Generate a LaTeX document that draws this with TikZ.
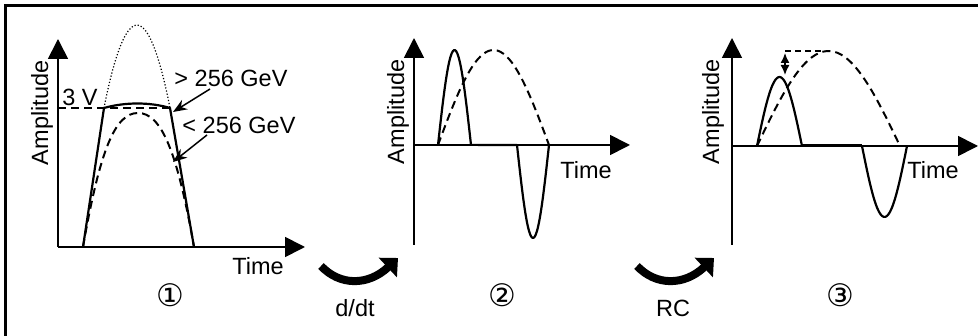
\documentclass[tikz,border=0pt]{standalone}
\usepackage{fontspec}
\setmainfont{Liberation Sans}
\newfontfamily\circfont{DejaVu Sans}
\usetikzlibrary{arrows.meta}
\tikzset{
  axisline/.style={
    line width=1.7pt,
    -{Triangle[length=20pt,width=20pt]}
  },
  pulse/.style={
    line width=2.2pt,
    line join=round
  },
  pulsedash/.style={
    line width=2pt,
    dash pattern=on 8pt off 5pt
  },
  peakdot/.style={
    line width=1.2pt,
    dash pattern=on 1.2pt off 2pt
  },
  callout/.style={
    line width=1.5pt,
    -{Stealth[length=14pt,width=11pt]}
  },
  opbend/.style={
    line width=8pt,
    -{Triangle[length=14pt,width=26pt]}
  },
  axlabel/.style={
    inner sep=0pt,
    font=\fontsize{23.5}{28}\selectfont
  },
  steplabel/.style={
    inner sep=0pt,
    font=\circfont\fontsize{31}{36}\selectfont
  }
}

\begin{document}
\begin{tikzpicture}[x=1pt, y=-1pt]
  \useasboundingbox (0,0) rectangle (978,336);
  \draw[line width=3pt] (5.5,345) -- (5.5,5.5) -- (985,5.5);

  % panel 1: clipped pulse
  \coordinate (o1) at (58,247);
  \coordinate (x1) at (305,247);
  \coordinate (y1) at (58,39);
  \draw[axisline] (o1) -- (x1);
  \draw[axisline] (o1) -- (y1);
  \node[axlabel, rotate=90] (amp1) at (42,113) {Amplitude};
  \node[axlabel] (time1) at (258,266) {Time};
  \node[axlabel] (volt) at (80,97) {3 V};
  \draw[pulsedash] (58,108) -- (170,108);
  \draw[peakdot] (104,108) parabola bend (137,25) (170,108);
  \draw[pulse] (83,247) -- (104,108) .. controls (125,102) and (150,102) .. (170,108) -- (194,247);
  \draw[pulsedash] (83,247) .. controls (100,150) and (115,113) .. (138,113)
    .. controls (161,113) and (177,150) .. (194,247);
  \node[axlabel] (hi) at (231,78) {> 256 GeV};
  \node[axlabel] (lo) at (239,125) {< 256 GeV};
  \coordinate (hitail) at (210,89);
  \coordinate (hitip) at (173,112);
  \coordinate (lotail) at (207,135);
  \coordinate (lotip) at (173,162);
  \draw[callout] (hitail) -- (hitip);
  \draw[callout] (lotail) -- (lotip);
  \node[steplabel] (n1) at (170,295) {①};

  % d/dt
  \coordinate (d1) at (321,266);
  \coordinate (d2) at (398,258);
  \draw[opbend] (d1) .. controls (340,286) and (368,286) .. (d2);
  \node[axlabel] (ddt) at (355,308) {d/dt};

  % panel 2: differentiated
  \coordinate (o2) at (414,145);
  \coordinate (x2) at (630,145);
  \coordinate (y2) at (414,38);
  \coordinate (b2) at (414,245);
  \draw[axisline] (o2) -- (x2);
  \draw[axisline] (b2) -- (y2);
  \node[axlabel, rotate=90] (amp2) at (398,112) {Amplitude};
  \node[axlabel] (time2) at (586,170) {Time};
  \draw[pulsedash] plot[domain=0:1, samples=40, smooth] ({438+111*\x},{145-95*sin(180*\x)});
  \draw[pulse] plot[domain=0:1, samples=30, smooth] ({438+33*\x},{145-95*sin(180*\x)})
    -- (517,145)
    -- plot[domain=0:1, samples=30, smooth] ({517+32*\x},{145+93*sin(180*\x)});
  \node[steplabel] (n2) at (502,295) {②};

  % RC
  \coordinate (r1) at (637,266);
  \coordinate (r2) at (714,258);
  \draw[opbend] (r1) .. controls (656,286) and (684,286) .. (r2);
  \node[axlabel] (rc) at (673,308) {RC};

  % panel 3: after RC
  \coordinate (o3) at (732,146);
  \coordinate (x3) at (978,146);
  \coordinate (y3) at (732,38);
  \coordinate (b3) at (732,245);
  \draw[axisline] (o3) -- (x3);
  \draw[axisline] (b3) -- (y3);
  \node[axlabel, rotate=90] (amp3) at (713,112) {Amplitude};
  \node[axlabel] (time3) at (933,170) {Time};
  \draw[pulsedash] plot[domain=0:1, samples=40, smooth] ({757+143*\x},{146-95*sin(180*\x)});
  \draw[pulse] plot[domain=0:1, samples=30, smooth] ({757+45*\x},{146-69*sin(180*\x)});
  \draw[line width=3pt] (802,146) -- (862,146);
  \draw[pulse] plot[domain=0:1, samples=30, smooth] ({862+45*\x},{146+71*sin(180*\x)});
  \coordinate (top3) at (785,51);
  \coordinate (pk3) at (823,51);
  \draw[line width=1.5pt, dash pattern=on 6pt off 4pt] (top3) -- (pk3);
  \draw[line width=1.5pt, {Latex[length=10pt,width=9pt]}-{Latex[length=10pt,width=9pt]}] (785,75) -- (785,53);
  \node[steplabel] (n3) at (840,295) {③};
\end{tikzpicture}
\end{document}
